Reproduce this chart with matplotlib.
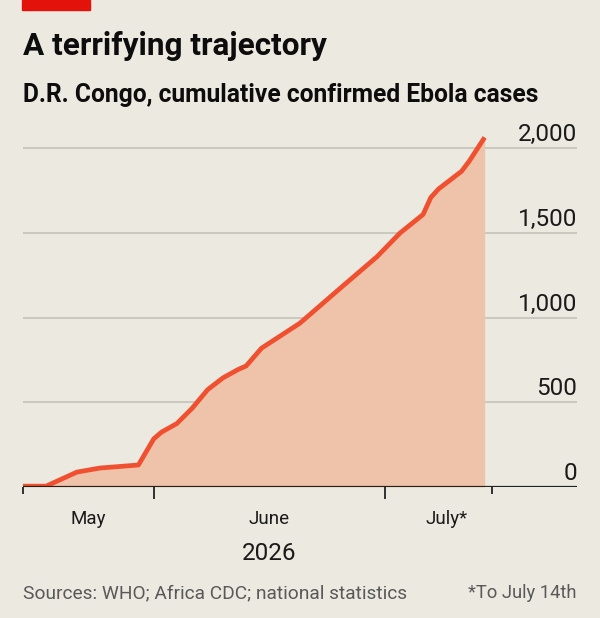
import matplotlib
matplotlib.use("Agg")
import matplotlib.pyplot as plt
import matplotlib.dates as mdates
from matplotlib.patches import Rectangle
from matplotlib.transforms import blended_transform_factory
import pandas as pd

# Dados: casos confirmados acumulados
datas = ["2026-05-15", "2026-05-18", "2026-05-22", "2026-05-25", "2026-05-30",
         "2026-06-01", "2026-06-02", "2026-06-04", "2026-06-06", "2026-06-08",
         "2026-06-10", "2026-06-12", "2026-06-13", "2026-06-15", "2026-06-20",
         "2026-06-25", "2026-06-30", "2026-07-03", "2026-07-06", "2026-07-07",
         "2026-07-08", "2026-07-11", "2026-07-12", "2026-07-14"]
casos = [5, 5, 88, 112, 130,
         285, 324, 375, 466, 575,
         645, 695, 715, 820, 968,
         1165, 1360, 1500, 1610, 1710,
         1760, 1865, 1925, 2065]

yticks = [0, 500, 1000, 1500, 2000]
ytick_labels = ["0", "500", "1,000", "1,500", "2,000"]
meses = ["May", "June", "July*"]
meses_pos = ["2026-05-23 12:00", "2026-06-16", "2026-07-09"]

datas = pd.to_datetime(datas)

fundo = "#ebe9e0"
linha = "#f0502f"
area = "#efc3a9"
fonte = ["Roboto", "DejaVu Sans"]

fig = plt.figure(figsize=(6, 6.18), dpi=100, facecolor=fundo)
ax = fig.add_axes([23 / 600, 131 / 618, 554 / 600, 364 / 618])
ax.set_facecolor(fundo)

ax.fill_between(datas, casos, 0, color=area, linewidth=0, zorder=1)
ax.plot(datas, casos, color=linha, lw=3.4, solid_joinstyle="round",
        solid_capstyle="butt", zorder=3)

ax.set_xlim(pd.Timestamp("2026-05-15"), pd.Timestamp("2026-07-26"))
ax.set_ylim(0, 2150)

# grades horizontais
for v in yticks[1:]:
    ax.axhline(v, color="#c5c2b9", lw=1.2, zorder=0)
ax.axhline(0, color="#222222", lw=1.6, zorder=4)

# rótulos do eixo y acima das linhas
tr = blended_transform_factory(ax.transAxes, ax.transData)
for v, lab in zip(yticks, ytick_labels):
    ax.annotate(lab, xy=(1, v), xycoords=tr, xytext=(0, 5),
                textcoords="offset points", ha="right", va="baseline",
                fontsize=17.5, color="#1a1a1a", family=fonte)

for s in ax.spines.values():
    s.set_visible(False)
ax.set_yticks([])

ax.set_xticks(pd.to_datetime(["2026-06-01", "2026-07-01"]))
ax.set_xticks(pd.to_datetime(["2026-05-15", "2026-07-15"]), minor=True)
ax.tick_params(axis="x", which="major", length=8.5, width=1.3,
               color="#222222", labelbottom=False)
ax.tick_params(axis="x", which="minor", length=5, width=1.3,
               color="#222222", labelbottom=False)

trx = blended_transform_factory(ax.transData, fig.transFigure)
for m, p in zip(meses, meses_pos):
    ax.text(mdates.date2num(pd.Timestamp(p)), 1 - 524 / 618, m,
            transform=trx, ha="center", va="baseline", fontsize=13.5,
            color="#1a1a1a", family=fonte)

fig.text(269 / 600, 1 - 560 / 618, "2026", ha="center", va="baseline",
         fontsize=17.5, color="#1a1a1a", family=fonte)

# título e subtítulo
fig.patches.append(Rectangle((22 / 600, 1 - 10 / 618), 68 / 600, 10 / 618,
                             transform=fig.transFigure, color="#e3120b"))
fig.text(23 / 600, 1 - 55 / 618, "A terrifying trajectory", ha="left",
         va="baseline", fontsize=22.7, fontweight="bold", color="#0d0d0d",
         family=fonte)
fig.text(23 / 600, 1 - 102 / 618, "D.R. Congo, cumulative confirmed Ebola cases",
         ha="left", va="baseline", fontsize=17.7, fontweight="bold",
         color="#0d0d0d", family=fonte)

# rodapé
fig.text(23 / 600, 1 - 598 / 618, "Sources: WHO; Africa CDC; national statistics",
         ha="left", va="baseline", fontsize=13.8, color="#595959", family=fonte)
fig.text(577 / 600, 1 - 598 / 618, "*To July 14th", ha="right", va="baseline",
         fontsize=13.2, color="#595959", family=fonte)

fig.savefig("out.png", dpi=100, facecolor=fundo)
